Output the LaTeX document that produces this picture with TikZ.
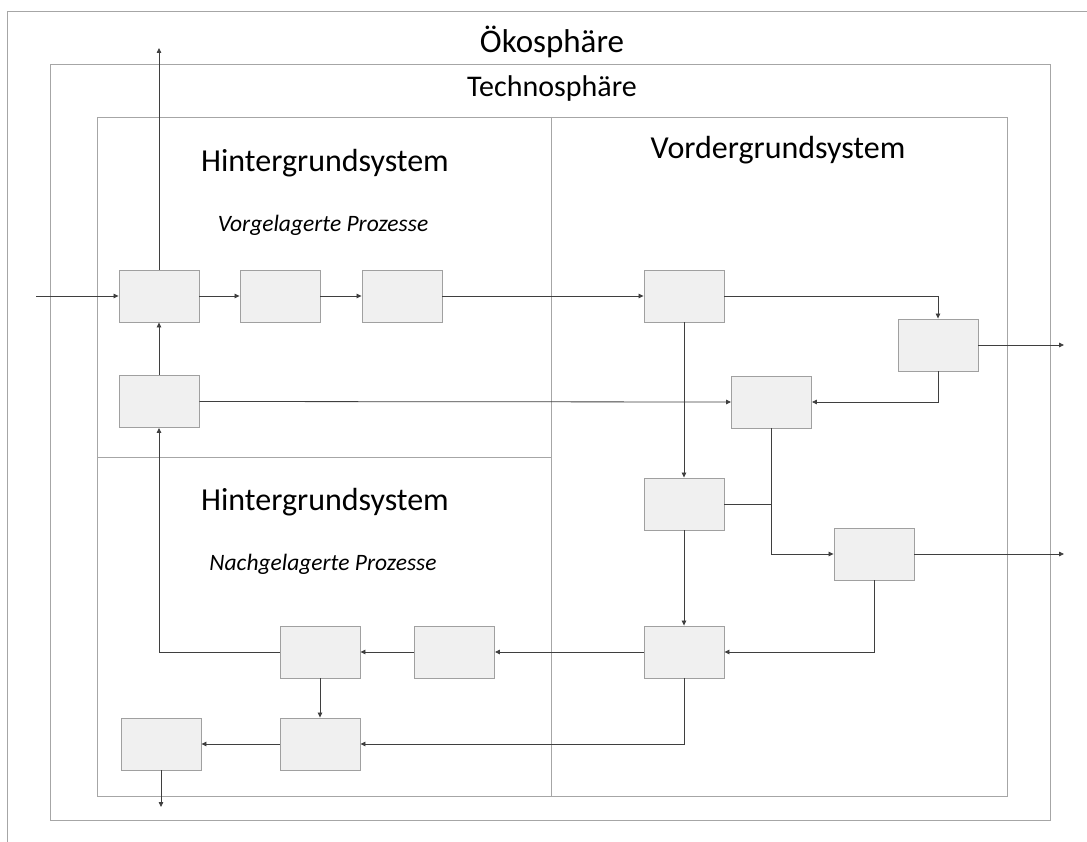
\documentclass[tikz,border=0pt]{standalone}
\usepackage{fontspec}
\setmainfont{Carlito}
\usetikzlibrary{arrows.meta}
\definecolor{framegray}{HTML}{A6A6A6}
\definecolor{boxgray}{HTML}{F0F0F0}
\definecolor{boxline}{HTML}{A0A0A0}
\definecolor{linegray}{HTML}{3F3F3F}
\tikzset{
  frameline/.style={draw=framegray, line width=0.9pt},
  procbox/.style={draw=boxline, fill=boxgray, line width=0.9pt, minimum width=80pt, minimum height=52pt, inner sep=0pt},
  flow/.style={draw=linegray, line width=0.8pt, -{Triangle[length=5pt,width=4.5pt]}},
  plain/.style={draw=linegray, line width=0.8pt},
  bigtitle/.style={font=\fontsize{32}{38}\selectfont, text=black, anchor=base},
  subtitle/.style={font=\fontsize{23.5}{28}\selectfont\itshape, text=black, anchor=base}
}
\begin{document}
\begin{tikzpicture}[x=1pt,y=-1pt]
\useasboundingbox (0,0) rectangle (1087,842);
\fill[white] (0,0) rectangle (1087,842);
% Oekosphaere (open to right and bottom)
\draw[frameline] (7,842) -- (7,11) -- (1087,11);
% Technosphaere
\draw[frameline] (50,64) rectangle (1050,820);
% systems
\draw[frameline] (97,117) rectangle (1007,796);
\draw[frameline] (551,117) -- (551,796);
\draw[frameline] (97,457) -- (551,457);
% titles
\node[bigtitle, font=\fontsize{33}{38}\selectfont] (oeko) at (552,53) {Ökosphäre};
\node[bigtitle, font=\fontsize{30}{36}\selectfont] (techno) at (552,97) {Technosphäre};
\node[bigtitle] (hg1) at (325,172) {Hintergrundsystem};
\node[subtitle] (vp) at (323,232) {Vorgelagerte Prozesse};
\node[bigtitle] (hg2) at (325,510) {Hintergrundsystem};
\node[subtitle] (np) at (323,570) {Nachgelagerte Prozesse};
\node[bigtitle] (vg) at (778,159) {Vordergrundsystem};
% boxes
\node[procbox] (A1) at (159,296) {};
\node[procbox] (A2) at (280,296) {};
\node[procbox] (A3) at (402,296) {};
\node[procbox] (B1) at (159,401.5) {};
\node[procbox] (F1) at (684,296) {};
\node[procbox] (F2) at (938,345) {};
\node[procbox] (F3) at (771.5,402) {};
\node[procbox] (F4) at (684,504) {};
\node[procbox] (F5) at (874,554) {};
\node[procbox] (F6) at (684,652) {};
\node[procbox] (N1) at (454.5,652) {};
\node[procbox] (N2) at (320,652) {};
\node[procbox] (N3) at (320,744) {};
\node[procbox] (N4) at (161,744) {};
% free ends
\coordinate (in) at (36,296);
\coordinate (upout) at (159,48);
\coordinate (out1) at (1064,345);
\coordinate (out2) at (1064,554);
\coordinate (downout) at (161,807);
% connectors
\draw[flow] (in) -- (A1.west);
\draw[flow] (A1.north) -- (upout);
\draw[flow] (A1.east) -- (A2.west);
\draw[flow] (A2.east) -- (A3.west);
\draw[flow] (A3.east) -- (F1.west);
\draw[flow] (F1.east) -| (F2.north);
\draw[flow] (F2.east) -- (out1);
\draw[flow] (F2.south) |- (F3.east);
\draw[flow] (B1.east) -- (F3.west);
\draw[flow] (B1.north) -- (A1.south);
\draw[flow] (F1.south) -- (F4.north);
\draw[flow] (F3.south) |- (F5.west);
\draw[plain] (F4.east) -- (F4.east -| F3.south);
\draw[flow] (F5.east) -- (out2);
\draw[flow] (F4.south) -- (F6.north);
\draw[flow] (F5.south) |- (F6.east);
\draw[flow] (F6.west) -- (N1.east);
\draw[flow] (N1.west) -- (N2.east);
\draw[flow] (N2.west) -| (B1.south);
\draw[flow] (N2.south) -- (N3.north);
\draw[flow] (F6.south) |- (N3.east);
\draw[flow] (N3.west) -- (N4.east);
\draw[flow] (N4.south) -- (downout);
\end{tikzpicture}
\end{document}
